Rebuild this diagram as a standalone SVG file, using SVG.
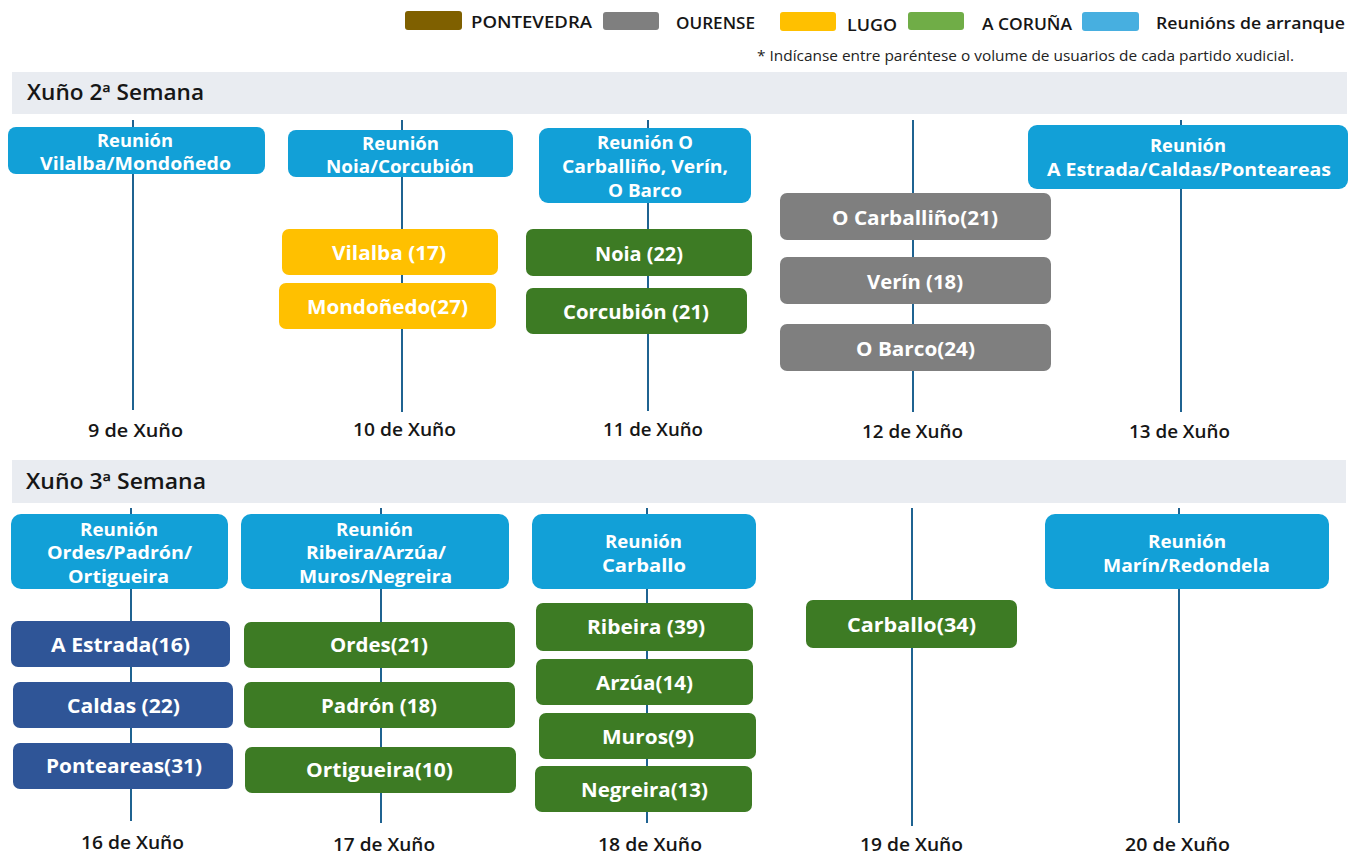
<svg xmlns="http://www.w3.org/2000/svg" width="1362" height="854" viewBox="0 0 1362 854">
<style>
text{font-family:"Open Sans","Noto Sans","Liberation Sans",sans-serif;}
.band{fill:#E9ECF1}
.blue{fill:#12A0D7}
.green{fill:#3D7B24}
.navy{fill:#2F5597}
.yellow{fill:#FFC000}
.gray{fill:#7F7F7F}
.conn line{stroke:#1F6391;stroke-width:2}
.r{font-size:18px;font-weight:700;fill:#fff;text-anchor:middle}
.n{font-size:20px;font-weight:700;fill:#fff;text-anchor:middle}
.d{font-size:18px;font-weight:600;fill:#161616;text-anchor:middle}
.h{font-size:21px;font-weight:600;fill:#161616}
.lg{font-size:16px;font-weight:600;fill:#161616}
.fn{font-size:14px;font-weight:400;fill:#222}
</style>
<rect width="1362" height="854" fill="#fff"/>

<g id="legend">
<rect x="405" y="11" width="57" height="19" rx="3" fill="#7F6000"/>
<text class="lg" x="471" y="28" textLength="121" lengthAdjust="spacingAndGlyphs">PONTEVEDRA</text>
<rect x="603" y="12" width="56" height="18" rx="3" fill="#7F7F7F"/>
<text class="lg" x="676" y="29" textLength="79" lengthAdjust="spacingAndGlyphs">OURENSE</text>
<rect x="780" y="12" width="56" height="19" rx="3" fill="#FFC000"/>
<text class="lg" x="847" y="31" textLength="50" lengthAdjust="spacingAndGlyphs">LUGO</text>
<rect x="908" y="12" width="56" height="18" rx="3" fill="#70AD47"/>
<text class="lg" x="982" y="30" textLength="90" lengthAdjust="spacingAndGlyphs">A CORUÑA</text>
<rect x="1082" y="12" width="57" height="19" rx="3" fill="#47AFE0"/>
<text class="lg" x="1156" y="29" textLength="189" lengthAdjust="spacingAndGlyphs">Reunións de arranque</text>
<text class="fn" x="757" y="61" textLength="537" lengthAdjust="spacingAndGlyphs">* Indícanse entre paréntese o volume de usuarios de cada partido xudicial.</text>
</g>

<g id="week2-header">
<rect class="band" x="12" y="72" width="1335" height="42"/>
<text class="h" x="27" y="100" textLength="177" lengthAdjust="spacingAndGlyphs">Xuño 2ª Semana</text>
</g>
<g id="week3-header">
<rect class="band" x="12" y="460" width="1334" height="43"/>
<text class="h" x="26" y="489" textLength="180" lengthAdjust="spacingAndGlyphs">Xuño 3ª Semana</text>
</g>

<g id="connectors" class="conn">
<line x1="133" y1="120" x2="133" y2="410"/>
<line x1="402" y1="120" x2="402" y2="412"/>
<line x1="648" y1="120" x2="648" y2="411"/>
<line x1="913" y1="120" x2="913" y2="412"/>
<line x1="1181" y1="120" x2="1181" y2="412"/>
<line x1="131" y1="508" x2="131" y2="821"/>
<line x1="381" y1="508" x2="381" y2="823"/>
<line x1="647" y1="508" x2="647" y2="823"/>
<line x1="912" y1="508" x2="912" y2="826"/>
<line x1="1179" y1="508" x2="1179" y2="823"/>
</g>

<!-- Week 2 -->
<g id="r-vilalba-mondonedo">
<rect class="blue" x="8" y="127" width="257" height="47" rx="8"/>
<text class="r" x="135" y="147" textLength="76" lengthAdjust="spacingAndGlyphs">Reunión</text>
<text class="r" x="135.5" y="170" textLength="191" lengthAdjust="spacingAndGlyphs">Vilalba/Mondoñedo</text>
</g>
<g id="r-noia-corcubion">
<rect class="blue" x="288" y="130" width="225" height="47" rx="8"/>
<text class="r" x="400.5" y="150" textLength="77" lengthAdjust="spacingAndGlyphs">Reunión</text>
<text class="r" x="400" y="173" textLength="148" lengthAdjust="spacingAndGlyphs">Noia/Corcubión</text>
</g>
<g id="vilalba">
<rect class="yellow" x="282" y="229" width="216" height="46" rx="7"/>
<text class="n" x="389" y="260" textLength="114" lengthAdjust="spacingAndGlyphs">Vilalba (17)</text>
</g>
<g id="mondonedo">
<rect class="yellow" x="279" y="283" width="217" height="46" rx="7"/>
<text class="n" x="387.5" y="314" textLength="161" lengthAdjust="spacingAndGlyphs">Mondoñedo(27)</text>
</g>
<g id="r-ourense">
<rect class="blue" x="539" y="128" width="212" height="75" rx="9"/>
<text class="r" x="645" y="149" textLength="96" lengthAdjust="spacingAndGlyphs">Reunión O</text>
<text class="r" x="645" y="173" textLength="166" lengthAdjust="spacingAndGlyphs">Carballiño, Verín,</text>
<text class="r" x="645" y="197" textLength="74" lengthAdjust="spacingAndGlyphs">O Barco</text>
</g>
<g id="noia">
<rect class="green" x="526" y="229" width="226" height="47" rx="7"/>
<text class="n" x="639" y="261" textLength="88" lengthAdjust="spacingAndGlyphs">Noia (22)</text>
</g>
<g id="corcubion">
<rect class="green" x="526" y="288" width="221" height="46" rx="7"/>
<text class="n" x="636" y="319" textLength="146" lengthAdjust="spacingAndGlyphs">Corcubión (21)</text>
</g>
<g id="ocarballino">
<rect class="gray" x="780" y="193" width="271" height="47" rx="7"/>
<text class="n" x="915" y="225" textLength="166" lengthAdjust="spacingAndGlyphs">O Carballiño(21)</text>
</g>
<g id="verin">
<rect class="gray" x="780" y="257" width="271" height="47" rx="7"/>
<text class="n" x="915" y="289" textLength="96" lengthAdjust="spacingAndGlyphs">Verín (18)</text>
</g>
<g id="obarco">
<rect class="gray" x="780" y="324" width="271" height="47" rx="7"/>
<text class="n" x="915.5" y="356" textLength="119" lengthAdjust="spacingAndGlyphs">O Barco(24)</text>
</g>
<g id="r-pontevedra">
<rect class="blue" x="1028" y="125" width="320" height="64" rx="9"/>
<text class="r" x="1188" y="152" textLength="76" lengthAdjust="spacingAndGlyphs">Reunión</text>
<text class="r" x="1189" y="176" textLength="284" lengthAdjust="spacingAndGlyphs">A Estrada/Caldas/Ponteareas</text>
</g>
<g id="dates-week2">
<text class="d" x="135.5" y="437" textLength="95" lengthAdjust="spacingAndGlyphs">9 de Xuño</text>
<text class="d" x="404.5" y="436" textLength="103" lengthAdjust="spacingAndGlyphs">10 de Xuño</text>
<text class="d" x="653" y="436" textLength="100" lengthAdjust="spacingAndGlyphs">11 de Xuño</text>
<text class="d" x="912.5" y="438" textLength="101" lengthAdjust="spacingAndGlyphs">12 de Xuño</text>
<text class="d" x="1179.5" y="438" textLength="101" lengthAdjust="spacingAndGlyphs">13 de Xuño</text>
</g>

<!-- Week 3 -->
<g id="r-ordes-padron-ortigueira">
<rect class="blue" x="11" y="514" width="217" height="75" rx="10"/>
<text class="r" x="119" y="536" textLength="78" lengthAdjust="spacingAndGlyphs">Reunión</text>
<text class="r" x="119.5" y="559" textLength="145" lengthAdjust="spacingAndGlyphs">Ordes/Padrón/</text>
<text class="r" x="118.5" y="583" textLength="101" lengthAdjust="spacingAndGlyphs">Ortigueira</text>
</g>
<g id="aestrada">
<rect class="navy" x="11" y="621" width="219" height="46" rx="7"/>
<text class="n" x="120.5" y="652" textLength="139" lengthAdjust="spacingAndGlyphs">A Estrada(16)</text>
</g>
<g id="caldas">
<rect class="navy" x="13" y="682" width="220" height="46" rx="7"/>
<text class="n" x="123.5" y="713" textLength="113" lengthAdjust="spacingAndGlyphs">Caldas (22)</text>
</g>
<g id="ponteareas">
<rect class="navy" x="13" y="743" width="220" height="46" rx="7"/>
<text class="n" x="124" y="773" textLength="156" lengthAdjust="spacingAndGlyphs">Ponteareas(31)</text>
</g>
<g id="r-ribeira-arzua-muros-negreira">
<rect class="blue" x="241" y="514" width="268" height="75" rx="10"/>
<text class="r" x="374.5" y="536" textLength="77" lengthAdjust="spacingAndGlyphs">Reunión</text>
<text class="r" x="376" y="559" textLength="140" lengthAdjust="spacingAndGlyphs">Ribeira/Arzúa/</text>
<text class="r" x="375.5" y="583" textLength="153" lengthAdjust="spacingAndGlyphs">Muros/Negreira</text>
</g>
<g id="ordes">
<rect class="green" x="244" y="622" width="271" height="46" rx="7"/>
<text class="n" x="379" y="652" textLength="98" lengthAdjust="spacingAndGlyphs">Ordes(21)</text>
</g>
<g id="padron">
<rect class="green" x="244" y="682" width="271" height="46" rx="7"/>
<text class="n" x="379" y="713" textLength="116" lengthAdjust="spacingAndGlyphs">Padrón (18)</text>
</g>
<g id="ortigueira">
<rect class="green" x="245" y="747" width="271" height="46" rx="7"/>
<text class="n" x="379.5" y="777" textLength="147" lengthAdjust="spacingAndGlyphs">Ortigueira(10)</text>
</g>
<g id="r-carballo">
<rect class="blue" x="532" y="514" width="224" height="75" rx="10"/>
<text class="r" x="643.5" y="548" textLength="77" lengthAdjust="spacingAndGlyphs">Reunión</text>
<text class="r" x="644" y="572" textLength="84" lengthAdjust="spacingAndGlyphs">Carballo</text>
</g>
<g id="ribeira">
<rect class="green" x="536" y="603" width="217" height="48" rx="7"/>
<text class="n" x="646" y="634" textLength="118" lengthAdjust="spacingAndGlyphs">Ribeira (39)</text>
</g>
<g id="arzua">
<rect class="green" x="536" y="659" width="217" height="46" rx="7"/>
<text class="n" x="644.5" y="690" textLength="97" lengthAdjust="spacingAndGlyphs">Arzúa(14)</text>
</g>
<g id="muros">
<rect class="green" x="539" y="713" width="217" height="46" rx="7"/>
<text class="n" x="648" y="744" textLength="92" lengthAdjust="spacingAndGlyphs">Muros(9)</text>
</g>
<g id="negreira">
<rect class="green" x="535" y="766" width="217" height="46" rx="7"/>
<text class="n" x="644.5" y="797" textLength="127" lengthAdjust="spacingAndGlyphs">Negreira(13)</text>
</g>
<g id="carballo">
<rect class="green" x="806" y="600" width="211" height="48" rx="7"/>
<text class="n" x="911.5" y="632" textLength="129" lengthAdjust="spacingAndGlyphs">Carballo(34)</text>
</g>
<g id="r-marin-redondela">
<rect class="blue" x="1045" y="514" width="284" height="75" rx="10"/>
<text class="r" x="1187" y="548" textLength="78" lengthAdjust="spacingAndGlyphs">Reunión</text>
<text class="r" x="1186.5" y="572" textLength="167" lengthAdjust="spacingAndGlyphs">Marín/Redondela</text>
</g>
<g id="dates-week3">
<text class="d" x="132.5" y="849" textLength="103" lengthAdjust="spacingAndGlyphs">16 de Xuño</text>
<text class="d" x="384" y="851" textLength="102" lengthAdjust="spacingAndGlyphs">17 de Xuño</text>
<text class="d" x="650" y="851" textLength="104" lengthAdjust="spacingAndGlyphs">18 de Xuño</text>
<text class="d" x="911.5" y="851" textLength="103" lengthAdjust="spacingAndGlyphs">19 de Xuño</text>
<text class="d" x="1177.5" y="851" textLength="105" lengthAdjust="spacingAndGlyphs">20 de Xuño</text>
</g>
</svg>
